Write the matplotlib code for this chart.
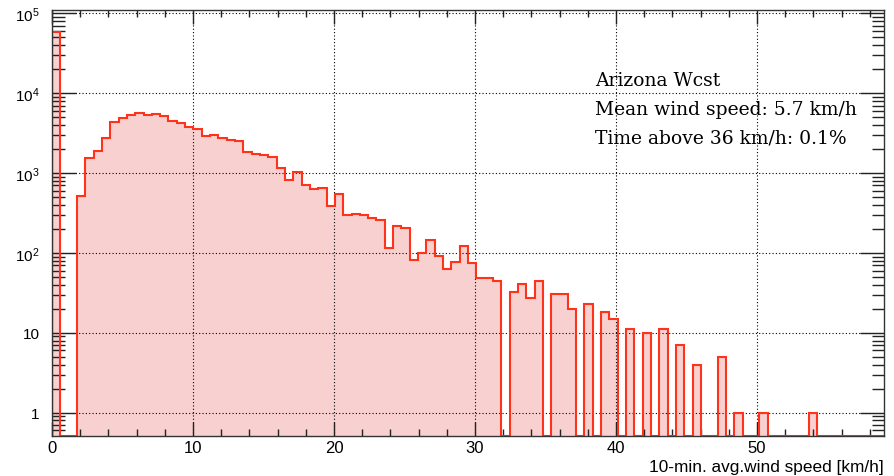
import numpy as np
import matplotlib
matplotlib.use("Agg")
import matplotlib.pyplot as plt
from matplotlib.ticker import FixedLocator, MultipleLocator, NullFormatter

# ---- data ----
x_min, x_max, n_bins = 0.0, 59.0, 100
counts = [
    59000, 0, 0, 510, 1550, 1880, 2750, 4340, 4900, 5400,
    5670, 5350, 5500, 5130, 4500, 4250, 3720, 3580, 2870, 3030,
    2780, 2620, 2510, 1810, 1740, 1660, 1570, 1160, 816, 1040,
    700, 624, 645, 387, 550, 300, 310, 300, 270, 258,
    115, 220, 205, 82, 101, 147, 92, 62, 77, 122,
    75, 48, 48, 45, 0, 32, 41, 27, 45, 0,
    31, 31, 20, 0, 23, 0, 18, 15, 0, 11,
    0, 10, 0, 11, 0, 7, 0, 4, 0, 0,
    5, 0, 1, 0, 0, 1, 0, 0, 0, 0,
    0, 1, 0, 0, 0, 0, 0, 0, 0, 0,
]
x_ticks = [0, 10, 20, 30, 40, 50]
y_ticks = [1, 10, 100, 1000, 10000, 100000]
y_ticklabels = ["1", "10", r"$10^{2}$", r"$10^{3}$", r"$10^{4}$", r"$10^{5}$"]
x_label = "10-min. avg.wind speed [km/h]"
info_lines = ["Arizona Wcst", "Mean wind speed: 5.7 km/h", "Time above 36 km/h: 0.1%"]

# ---- style ----
plt.rcParams['font.family'] = ['Liberation Sans', 'DejaVu Sans']
plt.rcParams['mathtext.fontset'] = 'custom'
plt.rcParams['mathtext.rm'] = 'Liberation Sans'
plt.rcParams['mathtext.it'] = 'Liberation Sans'

y_lo, y_hi = 0.51, 1.1e5
line_col = '#ff3319'
fill_col = '#f8d0d0'

fig = plt.figure(figsize=(8.94, 4.77), dpi=100)
ax = fig.add_axes([52 / 894, 40 / 477, 832 / 894, 426 / 477])
ax.set_yscale('log')

edges = np.linspace(x_min, x_max, n_bins + 1)
vals = np.array(counts, dtype=float)
plot_vals = np.where(vals > 0, vals, y_lo)

ax.stairs(plot_vals, edges, baseline=y_lo, fill=True, color=fill_col, zorder=2)
ax.stairs(plot_vals, edges, baseline=y_lo, fill=False, color=line_col, lw=1.5, zorder=3)

ax.set_xlim(x_min, x_max)
ax.set_ylim(y_lo, y_hi)

ax.xaxis.set_major_locator(FixedLocator(x_ticks))
ax.xaxis.set_minor_locator(MultipleLocator(2))
ax.yaxis.set_major_locator(FixedLocator(y_ticks))
ax.set_yticklabels(y_ticklabels)
minor_y = [m * 10.0 ** e for e in range(-1, 6) for m in range(2, 10)]
ax.yaxis.set_minor_locator(FixedLocator(minor_y))
ax.yaxis.set_minor_formatter(NullFormatter())

ax.grid(True, which='major', color='black', linestyle=(0, (1, 2)), linewidth=0.8, zorder=4)
ax.set_axisbelow(False)

ax.tick_params(axis='both', which='both', direction='in', top=True, right=True,
               color='#222222', zorder=5)
ax.tick_params(axis='x', which='major', length=10, width=1, pad=3, labelsize=12)
ax.tick_params(axis='x', which='minor', length=5, width=1)
ax.tick_params(axis='y', which='major', length=17, width=1, pad=9, labelsize=11)
ax.tick_params(axis='y', which='minor', length=9, width=1)

for s in ax.spines.values():
    s.set_color('#333333')
    s.set_linewidth(1.0)
    s.set_zorder(6)

fig.text(884 / 894, 1 - 472 / 477, x_label, ha='right', va='baseline', fontsize=12.4)

for i, t in enumerate(info_lines):
    fig.text(595 / 894, 1 - (86.5 + 28.3 * i) / 477, t, ha='left', va='baseline',
             fontsize=13.5, family=['DejaVu Serif'])

fig.savefig('out.png', dpi=100)
